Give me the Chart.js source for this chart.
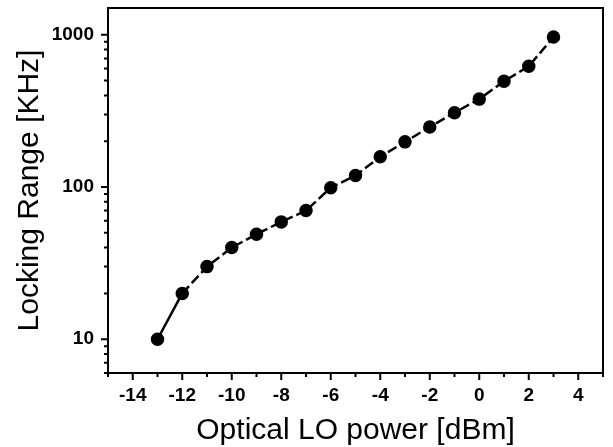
<!DOCTYPE html>
<html>
<head>
<meta charset="utf-8">
<script src="https://cdn.jsdelivr.net/npm/chart.js@4"></script>
<style>
  html, body { margin: 0; padding: 0; background: #fff; }
  #wrap { width: 613px; height: 447px; }
</style>
</head>
<body>
<div id="wrap"><canvas id="lockingChart"></canvas></div>
<script>
const powerDbm = [-13, -12, -11, -10, -9, -8, -7, -6, -5, -4, -3, -2, -1, 0, 1, 2, 3];
const lockingKhz = [10, 20, 30, 40, 49, 59, 70, 99, 119, 158, 198, 248, 308, 378, 495, 621, 966];
const xTicks = [-14, -12, -10, -8, -6, -4, -2, 0, 2, 4];
const yTicks = [10, 100, 1000];

const FONT = "Arial, 'Liberation Sans', Helvetica, sans-serif";

// frame + outward tick marks (major and minor)
const frameTicks = {
    id: "frameTicks",
    afterDraw(chart) {
        const { ctx, chartArea: a, scales } = chart;
        const x = scales.x, y = scales.y;
        ctx.save();
        ctx.strokeStyle = "#000";
        ctx.lineWidth = 2;
        ctx.strokeRect(a.left, a.top, a.right - a.left, a.bottom - a.top);

        ctx.beginPath();
        for (let v = -15; v <= 5; v++) {
            const px = x.getPixelForValue(v);
            const len = v % 2 === 0 ? 7 : 4;
            ctx.moveTo(px, a.bottom);
            ctx.lineTo(px, a.bottom + len);
        }
        for (let dec = 1; dec <= 1000; dec *= 10) {
            for (let m = 1; m < 10; m++) {
                const v = dec * m;
                if (v < y.min || v > y.max) continue;
                const py = y.getPixelForValue(v);
                const len = m === 1 ? 7 : 4;
                ctx.moveTo(a.left, py);
                ctx.lineTo(a.left - len, py);
            }
        }
        ctx.stroke();
        ctx.restore();
    }
};

function noPad(s) {
    s.paddingTop = 0;
    s.paddingBottom = 0;
    s.paddingLeft = 0;
    s.paddingRight = 0;
}

new Chart(document.getElementById("lockingChart").getContext("2d"), {
    type: "line",
    plugins: [frameTicks],
    data: {
        datasets: [{
            data: powerDbm.map((p, i) => ({ x: p, y: lockingKhz[i] })),
            borderColor: "#000",
            backgroundColor: "#000",
            borderWidth: 2.5,
            pointRadius: 5.5,
            pointHoverRadius: 5.5,
            tension: 0,
            segment: {
                borderDash: (ctx) => ctx.p0DataIndex === 0 ? [] : [10, 4]
            }
        }]
    },
    options: {
        responsive: true,
        maintainAspectRatio: false,
        animation: false,
        layout: { padding: { top: 6, right: 10, left: 0, bottom: 0 } },
        plugins: {
            legend: { display: false },
            tooltip: { enabled: false }
        },
        scales: {
            x: {
                type: "linear",
                min: -15,
                max: 5,
                afterFit: (s) => { s.height = 74; noPad(s); },
                afterBuildTicks: (s) => { s.ticks = xTicks.map(v => ({ value: v })); },
                grid: { display: false, drawTicks: false },
                border: { display: false },
                ticks: {
                    color: "#000",
                    padding: 11,
                    font: { family: FONT, size: 19, weight: "bold" }
                },
                title: {
                    display: true,
                    text: "Optical LO power [dBm]",
                    color: "#000",
                    padding: { top: 0, bottom: 0 },
                    font: { family: FONT, size: 30, lineHeight: 1.1 }
                }
            },
            y: {
                type: "logarithmic",
                min: 6,
                max: 1500,
                afterFit: (s) => { s.width = 108; noPad(s); },
                afterBuildTicks: (s) => { s.ticks = yTicks.map(v => ({ value: v })); },
                grid: { display: false, drawTicks: false },
                border: { display: false },
                ticks: {
                    color: "#000",
                    padding: 14,
                    callback: (v) => String(v),
                    font: { family: FONT, size: 19, weight: "bold" }
                },
                title: {
                    display: true,
                    text: "Locking Range [KHz]",
                    color: "#000",
                    padding: { top: 12, bottom: 0 },
                    font: { family: FONT, size: 30, lineHeight: 1.2 }
                }
            }
        }
    }
});
</script>
</body>
</html>
